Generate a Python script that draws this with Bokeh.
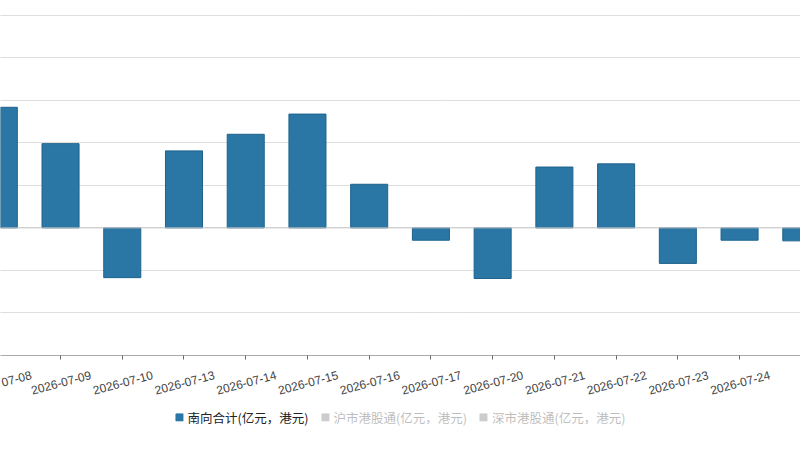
from bokeh.embed import file_html
from bokeh.layouts import column
from bokeh.models import FixedTicker, Legend, LegendItem, LinearAxis, Range1d, Span
from bokeh.plotting import figure
from bokeh.resources import INLINE

dates = ['2026-07-08', '2026-07-09', '2026-07-10', '2026-07-13', '2026-07-14',
         '2026-07-15', '2026-07-16', '2026-07-17', '2026-07-20', '2026-07-21',
         '2026-07-22', '2026-07-23', '2026-07-24', '2026-07-27']
south_total = [56.7, 39.6, -23.4, 36.2, 44.0, 53.5, 20.5, -5.8, -23.8, 28.6,
               30.1, -16.7, -5.8, -6.1]
series_names = ['南向合计(亿元，港元)', '沪市港股通(亿元，港元)', '深市港股通(亿元，港元)']
y_ticks = [-60, -40, -20, 0, 20, 40, 60, 80, 100]

cjk = "Noto Sans CJK SC"
xs = list(range(len(dates)))
x0, x1 = 0.0275, 12.987
shift = 0.49

p = figure(width=800, height=404, output_backend="svg", toolbar_location=None,
           x_range=Range1d(x0, x1), y_range=Range1d(-60, 106.9),
           min_border_left=0, min_border_right=0, min_border_top=0,
           min_border_bottom=49, x_axis_location=None)
p.outline_line_color = None

p.vbar(x=xs, top=south_total, bottom=0, width=0.6,
       fill_color="#2a77a6", line_color="#1f628c", line_width=1)

p.yaxis.visible = False
p.xgrid.visible = False
p.ygrid.ticker = FixedTicker(ticks=y_ticks)
p.ygrid.grid_line_color = "#bdbdbd"
p.ygrid.grid_line_dash = "1 1"
p.add_layout(Span(location=0, dimension='width', line_color="#c8c8c8", line_width=1))

# labels are shifted right so they end up centred under the bars;
# the tick marks on the bars are drawn as minor ticks of the same axis.
# the first date is cut off at the left edge of the picture, keep the visible part
labels = {i: d for i, d in enumerate(dates)}
labels[0] = dates[0][5:]
p.extra_x_ranges = {"labels": Range1d(x0 - shift, x1 - shift)}
ax = LinearAxis(x_range_name="labels",
                ticker=FixedTicker(ticks=xs, minor_ticks=[round(i - shift, 2) for i in xs]),
                major_label_overrides=labels,
                major_label_orientation=0.26, major_label_standoff=15,
                major_label_text_font="Liberation Sans",
                major_label_text_font_size="12px",
                major_label_text_color="#444444",
                axis_line_color="#aaaaaa", major_tick_line_color=None,
                major_tick_in=0, major_tick_out=4,
                minor_tick_line_color="#666666", minor_tick_in=0, minor_tick_out=4)
p.add_layout(ax, "below")

# legend lives in its own strip under the chart (its glyphs are out of view)
lf = figure(width=800, height=26, output_backend="svg", toolbar_location=None,
            x_range=Range1d(100, 101), y_range=Range1d(100, 101), min_border=0)
lf.outline_line_color = None
lf.axis.visible = False
lf.grid.visible = False
r0 = lf.vbar(x=xs, top=south_total, width=0.6, color="#2a77a6")
r1 = lf.vbar(x=xs, top=south_total, width=0.6, color="#555555", visible=False)
r2 = lf.vbar(x=xs, top=south_total, width=0.6, color="#555555", visible=False)

legend = Legend(items=[LegendItem(label=series_names[0], renderers=[r0]),
                       LegendItem(label=series_names[1], renderers=[r1]),
                       LegendItem(label=series_names[2], renderers=[r2])],
                orientation="horizontal", location="center", click_policy="hide",
                label_text_font=cjk, label_text_font_size="12.5px",
                label_text_color="#222222", glyph_width=9, glyph_height=9,
                label_standoff=4, spacing=12, padding=0, margin=0,
                border_line_color=None, background_fill_alpha=0,
                inactive_fill_color="white", inactive_fill_alpha=0.7)
lf.add_layout(legend)

open("out.html", "w").write(file_html(column(p, lf), INLINE))
